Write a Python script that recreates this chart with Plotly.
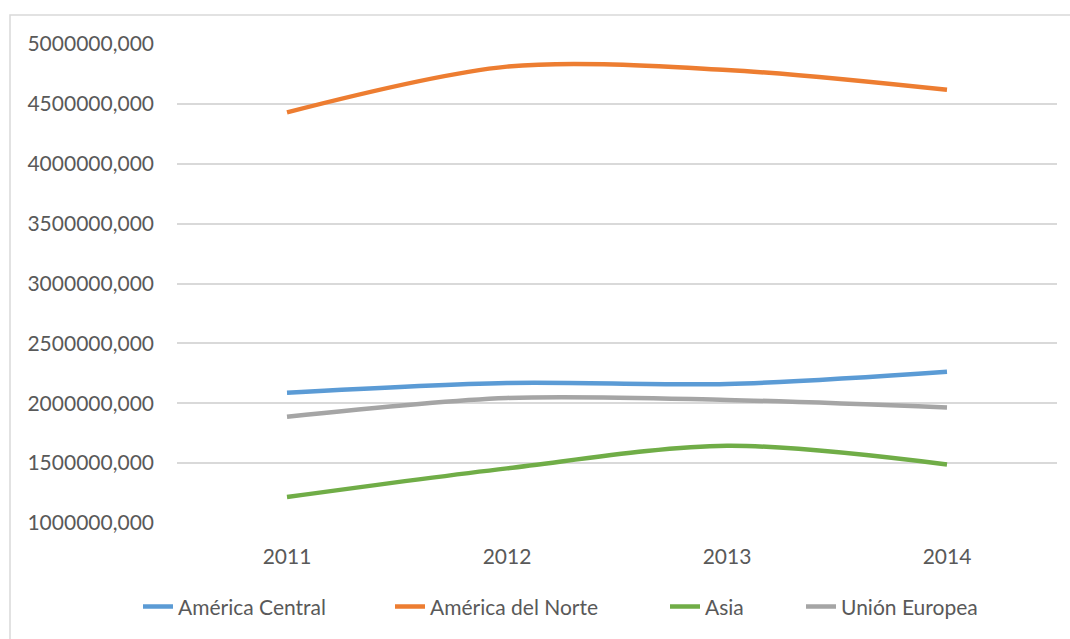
import plotly.graph_objects as go

years = ["2011", "2012", "2013", "2014"]
america_central = [2087500, 2169000, 2161000, 2264000]
america_norte = [4429000, 4811000, 4783000, 4617000]
asia = [1216700, 1456000, 1645000, 1489000]
union_europea = [1887500, 2044000, 2027500, 1964000]

series = [
    ("América Central", america_central, "#5b9bd5"),
    ("América del Norte", america_norte, "#ed7d31"),
    ("Asia", asia, "#70ad47"),
    ("Unión Europea", union_europea, "#a5a5a5"),
]

# legend text start positions (px) from the reference
legend_text_x = [180, 432, 707, 843]

L, R, T, B = 177, 13, 43.5, 115.5
PW = 1070 - L - R
PH = 639 - T - B

font_family = "Lato, 'Open Sans', sans-serif"
fig = go.Figure()
legends = {}
for i, (name, vals, color) in enumerate(series):
    lg = "legend" if i == 0 else f"legend{i + 1}"
    fig.add_trace(go.Scatter(
        x=years, y=vals, name=name, mode="lines", legend=lg,
        line=dict(color=color, width=4.5, shape="spline", smoothing=0.9),
    ))
    legends[lg] = dict(
        orientation="h", xanchor="left", yanchor="middle",
        x=(legend_text_x[i] - 42 - L) / PW, y=(523 - 607) / PH,
        font=dict(family=font_family, size=21, color="#595959"),
        bgcolor="rgba(0,0,0,0)",
    )

fig.update_layout(
    width=1070, height=639,
    margin=dict(l=L, r=R, t=T, b=B),
    paper_bgcolor="white", plot_bgcolor="white",
    separators=",.",
    font=dict(family=font_family, size=21, color="#595959"),
    showlegend=True,
    xaxis=dict(type="category", showgrid=False, zeroline=False, showline=False,
               ticks="", ticklabelstandoff=19, range=[-0.5, 3.5],
               tickfont=dict(size=21, color="#595959")),
    yaxis=dict(range=[1000000, 5000000], dtick=500000, tick0=1000000,
               tickformat=".3f", showgrid=True, gridcolor="#d9d9d9", gridwidth=1.5,
               zeroline=False, showline=False, ticks="", ticklabelstandoff=22,
               tickfont=dict(size=21, color="#595959")),
    shapes=[dict(type="rect", xref="paper", yref="paper",
                 x0=(10 - L) / PW, x1=(1075 - L) / PW,
                 y0=(523 - 650) / PH, y1=(523 - 14) / PH,
                 line=dict(color="#d9d9d9", width=1.5), fillcolor="rgba(0,0,0,0)", layer="below")],
    **legends,
)

fig.write_html("out.html", config={"displayModeBar": False},
               post_script="document.body.style.margin='0';")
